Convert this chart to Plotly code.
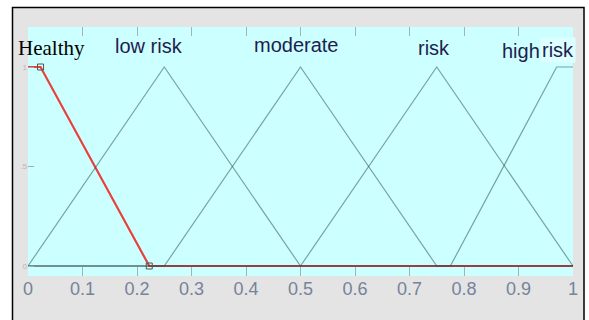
import plotly.graph_objects as go

# ---- data (membership functions) ----
healthy_x = [0.0, 0.023, 0.2225, 1.0]
healthy_y = [1, 1, 0, 0]
low_x = [0.0, 0.25, 0.5, 1.0]
low_y = [0, 1, 0, 0]
moderate_x = [0.0, 0.25, 0.5, 0.75, 1.0]
moderate_y = [0, 0, 1, 0, 0]
risk_x = [0.0, 0.5, 0.75, 1.0]
risk_y = [0, 0, 1, 0]
high_x = [0.0, 0.775, 0.97, 1.0]
high_y = [0, 0, 1, 1]

x_ticks = [0, 0.1, 0.2, 0.3, 0.4, 0.5, 0.6, 0.7, 0.8, 0.9, 1]
x_ticktext = ["0", "0.1", "0.2", "0.3", "0.4", "0.5", "0.6", "0.7", "0.8", "0.9", "1"]
y_ticks = [0, 0.5, 1]
y_ticktext = ["0", ".5", "1"]

mf_names = ["Healthy", "low risk", "moderate", "risk", "high", "risk"]

W, H = 589, 320
ML, MR, MT, MB = 28, 16, 27, 44
PW, PH = W - ML - MR, H - MT - MB
Y0_PX, Y1_PX = 266, 67  # pixel rows of y=0 and y=1
unit = Y0_PX - Y1_PX
y_lo = -((H - MB) - Y0_PX) / unit
y_hi = 1 + (Y1_PX - MT) / unit

def py(px):
    return (Y0_PX - px) / unit

def paper_x(px):
    return (px - ML) / PW

def paper_y(px):
    return ((H - MB) - px) / PH

fig = go.Figure()

fig.add_trace(go.Scatter(x=healthy_x, y=healthy_y, mode="lines",
                         line=dict(color="#e8413c", width=2.2), hoverinfo="skip"))
grey = "rgba(40,70,70,0.5)"
for xs, ys in [(low_x, low_y), (moderate_x, moderate_y), (risk_x, risk_y), (high_x, high_y)]:
    fig.add_trace(go.Scatter(x=xs, y=ys, mode="lines",
                             line=dict(color=grey, width=1.2), hoverinfo="skip"))
fig.add_trace(go.Scatter(x=healthy_x[1:3], y=healthy_y[1:3], mode="markers",
                         marker=dict(symbol="square-open", size=6,
                                     color="#555555", line=dict(width=1)),
                         hoverinfo="skip"))

shapes = [
    dict(type="rect", xref="paper", yref="paper",
         x0=paper_x(12.5), x1=paper_x(584), y0=paper_y(340), y1=paper_y(7.5),
         fillcolor="#e4e4e4", line=dict(color="black", width=1.5), layer="below"),
    dict(type="rect", xref="paper", yref="paper", x0=0, x1=1, y0=0, y1=1,
         fillcolor="#ccffff", line=dict(width=0), layer="below"),
]

lab_col = "#1e1e4e"
sans = "Liberation Sans, Arial"
annotations = [
    dict(x=0.043, y=py(47.6), text=mf_names[0],
         font=dict(family="Liberation Serif, Times New Roman", size=21, color="black")),
    dict(x=0.2216, y=py(46.3), text=mf_names[1], font=dict(family=sans, size=20, color=lab_col)),
    dict(x=0.4918, y=py(44.7), text=mf_names[2], font=dict(family=sans, size=20, color=lab_col)),
    dict(x=0.745, y=py(48), text=mf_names[3], font=dict(family=sans, size=20, color=lab_col)),
    dict(x=0.904, y=py(50.5), text=mf_names[4], font=dict(family=sans, size=20, color=lab_col)),
    dict(x=0.9725, y=py(49.7), text=mf_names[5], font=dict(family=sans, size=20, color=lab_col),
         bgcolor="#dcffff", borderpad=1),
]
for a in annotations:
    a.update(xref="x", yref="y", showarrow=False, xanchor="center", yanchor="middle")

fig.update_layout(
    width=W, height=H,
    margin=dict(l=ML, r=MR, t=MT, b=MB),
    paper_bgcolor="white", plot_bgcolor="rgba(0,0,0,0)",
    showlegend=False,
    shapes=shapes, annotations=annotations,
    xaxis=dict(range=[0, 1], tickvals=x_ticks, ticktext=x_ticktext,
               ticks="inside", ticklen=9, tickcolor="#a4b4b4", tickwidth=1,
               mirror="ticks", showgrid=False, zeroline=False, showline=False,
               tickfont=dict(family=sans, size=18, color="#76839a")),
    yaxis=dict(range=[y_lo, y_hi], tickvals=y_ticks, ticktext=y_ticktext,
               ticks="inside", ticklen=6, tickcolor="#a8a8a8", tickwidth=1,
               showgrid=False, zeroline=False, showline=False,
               tickfont=dict(family=sans, size=8, color="#b8b8b8")),
)

fig.write_html(
    "out.html",
    config={"displayModeBar": False},
    post_script="document.body.style.margin='0';document.body.style.overflow='hidden';",
)
